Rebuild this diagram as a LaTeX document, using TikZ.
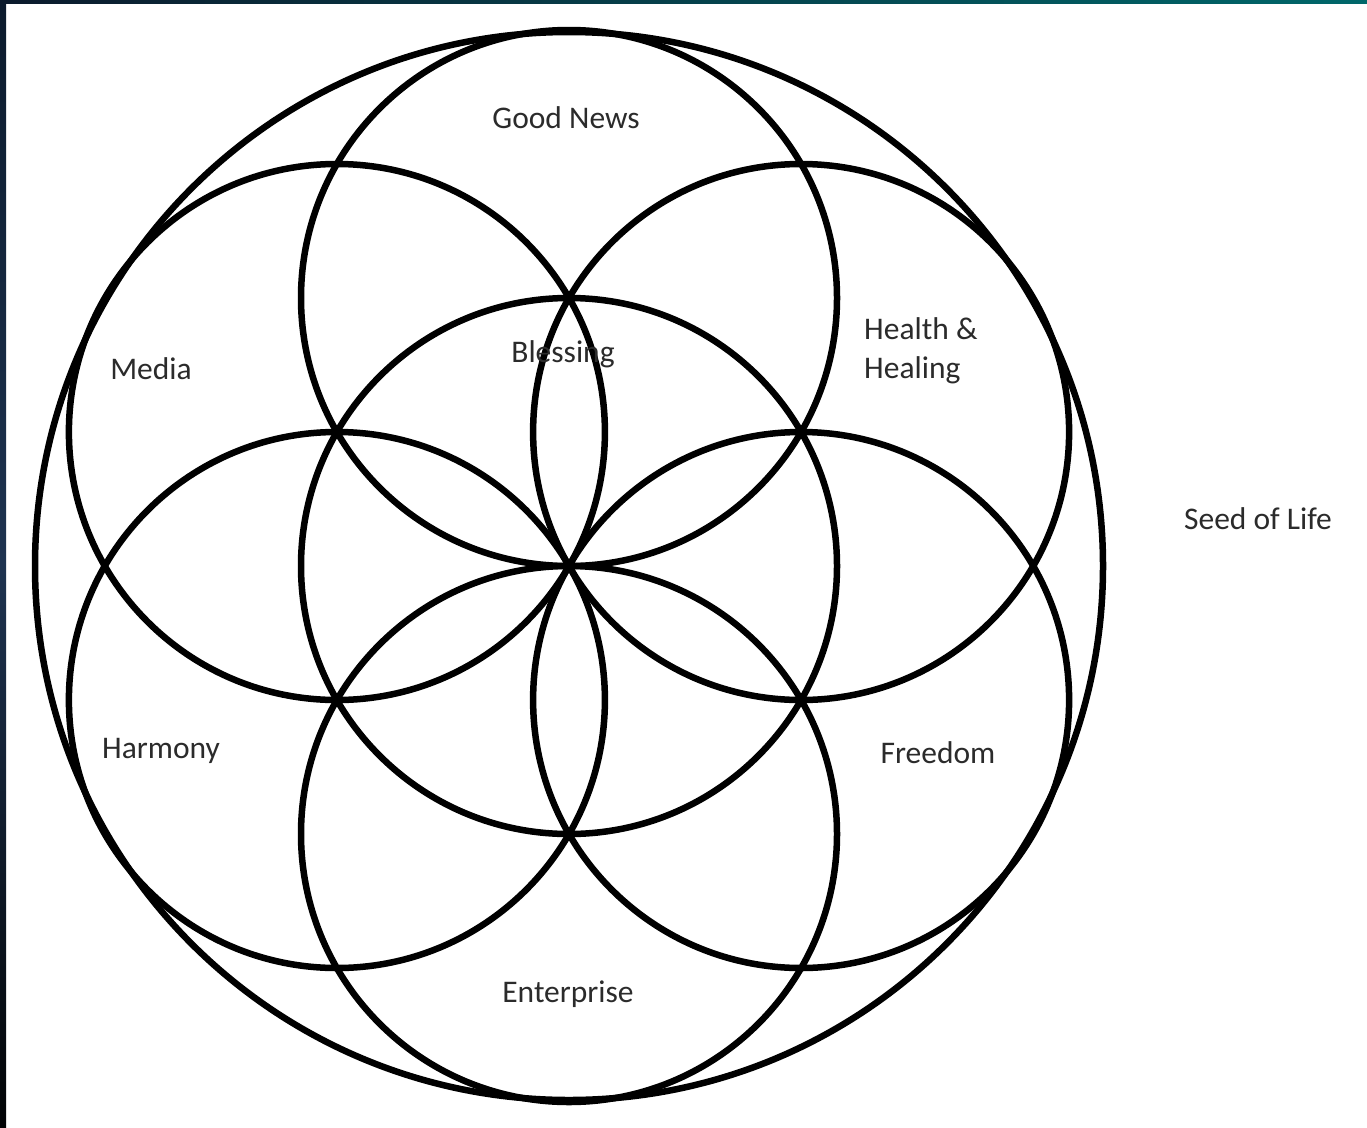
\documentclass[tikz,border=0pt]{standalone}
\usepackage{fontspec}
\setmainfont{Carlito}
\usetikzlibrary{calc}
\definecolor{navy}{HTML}{0B1A2C}
\definecolor{navymid}{HTML}{1E3350}
\definecolor{teal}{HTML}{00676A}
\definecolor{txt}{HTML}{2B2B2B}
\begin{document}
\begin{tikzpicture}[x=1pt,y=-1pt,
  ring/.style={line width=6.5pt,draw=black},
  lbl/.style={text=txt,font=\fontsize{31.5}{39}\selectfont,inner sep=0pt}]
\useasboundingbox (0,0) rectangle (1367,1127);
\fill[white] (0,0) rectangle (1367,1127);
% edge strips
\shade[top color=navy,bottom color=black!90!navy,middle color=navymid] (0,0) rectangle (6,1127);
\shade[left color=navy,right color=teal] (0,0) rectangle (1367,3.5);
% circles
\coordinate (c) at (569,566);
\draw[ring] (c) circle[radius=534pt];
\draw[ring] (c) circle[radius=268pt];
\foreach \a in {90,30,-30,-90,-150,150}{
  \draw[ring] ($(c)+(\a:268pt)$) circle[radius=268pt];
}
% labels
\node[lbl] (good) at (566,118) {Good News};
\node[lbl] (bless) at (563,354) {Blessing};
\node[lbl] (media) at (151,369) {Media};
\node[lbl,anchor=west,align=left] (health) at (864,351) {Health \&\\Healing};
\node[lbl] (seed) at (1258,519) {Seed of Life};
\node[lbl] (harm) at (161,751) {Harmony};
\node[lbl] (free) at (938,753) {Freedom};
\node[lbl] (ent) at (568,994) {Enterprise};
\end{tikzpicture}
\end{document}
